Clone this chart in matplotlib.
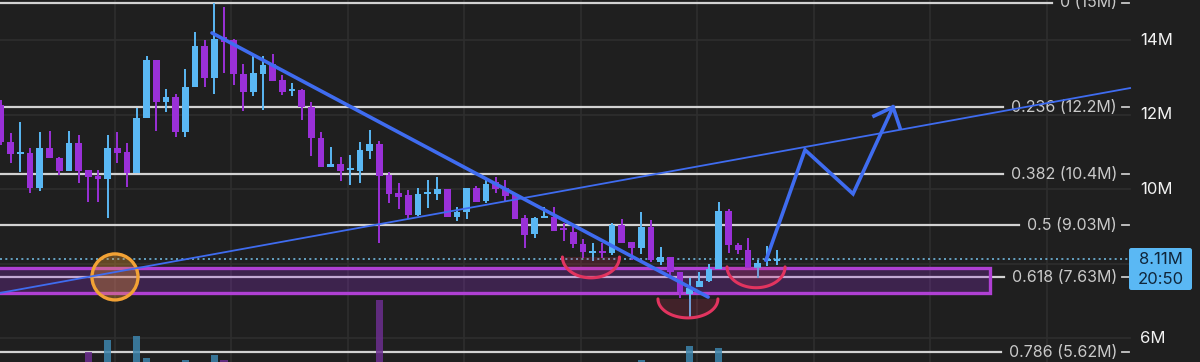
import numpy as np
import matplotlib
matplotlib.use("Agg")
import matplotlib.pyplot as plt
from matplotlib.patches import Rectangle, Ellipse, Polygon, FancyBboxPatch

# ---------------- data (prices in millions) ----------------
opens = [12.26, 11.26, 10.94, 10.97, 10.03, 11.10, 10.83, 10.48, 11.24, 10.51,
         10.35, 10.27, 11.10, 10.99, 10.43, 11.91, 13.46, 12.34, 12.47, 11.53,
         12.74, 13.84, 12.98, 14.08, 14.00, 13.09, 12.60, 13.09, 13.36, 12.93,
         12.63, 12.66, 12.20, 11.37, 10.59, 10.67, 10.51, 10.48, 11.02, 11.21,
         10.38, 9.89, 9.84, 9.30, 9.87, 9.87, 10.00, 9.25, 9.38, 10.03,
         9.68, 10.19, 10.03, 9.87, 9.22, 8.79, 9.22, 9.25, 8.95, 8.85,
         8.52, 8.28, 8.34, 8.28, 9.03, 8.58, 8.42, 8.98, 8.04, 8.18,
         7.77, 7.18, 7.37, 7.53, 7.85, 9.41, 8.50, 8.36, 7.87, 8.07, 8.07]
highs = [12.39, 11.50, 11.80, 11.10, 11.53, 11.56, 10.86, 11.56, 11.45, 10.51,
         10.51, 11.45, 11.53, 11.24, 12.18, 13.57, 13.46, 12.69, 12.55, 13.22,
         14.22, 14.00, 14.99, 14.89, 14.03, 13.36, 13.60, 13.57, 13.62, 13.06,
         12.85, 12.69, 12.34, 11.53, 11.13, 10.86, 10.91, 11.26, 11.58, 11.29,
         10.46, 10.16, 9.97, 10.03, 10.24, 10.32, 10.00, 9.52, 10.03, 10.08,
         10.30, 10.32, 10.24, 9.87, 9.30, 9.25, 9.52, 9.52, 9.09, 9.03,
         8.66, 8.55, 8.55, 9.09, 9.20, 8.58, 9.38, 9.17, 8.44, 8.18,
         7.77, 7.61, 7.77, 7.99, 9.65, 9.46, 8.55, 8.69, 8.09, 8.47, 8.36]
lows = [11.18, 10.70, 10.46, 9.89, 9.95, 10.83, 10.38, 10.48, 10.16, 9.65,
        9.65, 9.22, 10.70, 10.05, 10.43, 11.91, 11.56, 12.07, 11.40, 11.40,
        12.74, 12.74, 12.55, 13.11, 12.79, 12.09, 12.50, 12.12, 12.90, 12.52,
        12.50, 11.85, 10.89, 10.59, 10.59, 10.22, 10.11, 10.16, 10.81, 8.55,
        9.62, 9.46, 9.20, 9.28, 9.49, 9.71, 9.25, 9.14, 9.20, 9.65,
        9.62, 9.89, 9.68, 9.20, 8.42, 8.69, 9.22, 8.87, 8.60, 8.42,
        8.15, 8.07, 8.15, 8.23, 8.55, 8.09, 8.26, 8.04, 7.96, 7.64,
        7.07, 6.54, 7.37, 7.50, 7.85, 8.28, 8.26, 7.87, 7.61, 7.93, 7.96]
closes = [11.26, 10.94, 10.97, 10.03, 11.10, 10.83, 10.48, 11.24, 10.48, 10.32,
          10.27, 11.10, 10.97, 10.43, 11.91, 13.46, 12.34, 12.47, 11.53, 12.74,
          13.84, 12.98, 14.03, 13.95, 13.09, 12.60, 13.11, 13.33, 12.90, 12.60,
          12.66, 12.20, 11.37, 10.59, 10.67, 10.48, 10.56, 11.05, 11.21, 10.35,
          9.87, 9.79, 9.30, 9.87, 9.89, 10.00, 9.25, 9.38, 10.03, 9.65,
          10.13, 10.00, 9.81, 9.20, 8.77, 9.22, 9.25, 8.87, 8.90, 8.52,
          8.31, 8.34, 8.28, 9.03, 8.55, 8.42, 8.98, 8.09, 8.18, 7.77,
          7.24, 7.34, 7.53, 7.85, 9.41, 8.50, 8.36, 7.87, 8.01, 8.12, 8.11]

# visible volume bars (candle index, relative volume)
vol_index = [9, 11, 14, 15, 19, 22, 23, 39, 66, 71, 74]
vol_values = [0.17, 0.36, 0.43, 0.07, 0.03, 0.12, 0.03, 1.03, 0.03, 0.27, 0.23]

fib_ratios = ["0", "0.236", "0.382", "0.5", "0.618", "0.786"]
fib_prices = [15.0, 12.2, 10.4, 9.03, 7.63, 5.62]
fib_texts = ["15M", "12.2M", "10.4M", "9.03M", "7.63M", "5.62M"]

grid_ticks = [14, 12, 10, 8, 6]
label_ticks = [14, 12, 10, 6]
axis_labels = ["14M", "12M", "10M", "6M"]

last_price = 8.11
last_price_label = "8.11M"
time_label = "20:50"

# annotations (candle-index, price)
down_trend = ([21.75, 72.9], [14.19, 7.10])
up_trend = ([-0.1, 116.4], [7.21, 12.71])
projection = ([78.87, 82.89, 87.84, 91.96], [8.09, 11.05, 9.87, 12.20])
arrow_wings = ([90.0, 91.96, 92.68], [11.96, 12.20, 11.64])
zone = (7.21, 7.88, 101.96)          # bottom, top, right end
circle_center = (11.75, 7.64)
smiles = [(60.82, 8.175, 2.94, 0.56), (70.82, 7.05, 3.09, 0.51), (77.84, 7.91, 2.99, 0.56)]

# ---------------- style ----------------
BG = "#1f1f1f"
UP = "#5ab8f4"
DOWN = "#9a30d8"
LINE = "#d2d2d2"
TREND = "#3f6cf0"
GRID = "#2e2e2e"
FONT = ["Inter", "DejaVu Sans"]

W, H = 1200, 362
X0_PX, STEP_PX = 1.0, 9.7
PX_PER_M = 37.25
YTOP = 15.074

def px_x(p):
    return (p - X0_PX) / STEP_PX

fig = plt.figure(figsize=(W / 100, H / 100), dpi=100, facecolor=BG)
ax = fig.add_axes([0, 0, 1, 1])
ax.set_facecolor(BG)
ax.set_xlim(px_x(0), px_x(W))
ax.set_ylim(YTOP - H / PX_PER_M, YTOP)
ax.axis("off")

x_axis_right = px_x(1130)

# grid
for t in grid_ticks:
    ax.plot([px_x(0), x_axis_right], [t, t], color=GRID, lw=1.2, zorder=1)
for k in range(9):
    gx = 11.75 + 12.01 * k
    ax.axvline(gx, color=GRID, lw=1.2, zorder=1)

# fib labels
fib_text_objs = []
for r, p, s in zip(fib_ratios, fib_prices, fib_texts):
    t = ax.text(px_x(1117), p, f"{r} ({s})", ha="right", va="center",
                color="#c9c9c9", fontsize=11.5, family=FONT, zorder=6)
    fib_text_objs.append(t)
    ax.plot([px_x(1122), px_x(1129)], [p, p], color="#c9c9c9", lw=1.3, zorder=6)

fig.canvas.draw()
renderer = fig.canvas.get_renderer()
inv = ax.transData.inverted()
for t, p in zip(fib_text_objs, fib_prices):
    bb = t.get_window_extent(renderer)
    xe = inv.transform((bb.x0 - 8, 0))[0]
    ax.plot([px_x(0), xe], [p, p], color=LINE, lw=1.6, zorder=2)

# zone rectangle
zb, zt, zr = zone
ax.add_patch(Rectangle((px_x(-5), zb), zr - px_x(-5), zt - zb,
                       facecolor=(0.6, 0.19, 0.85, 0.25), edgecolor="#b040d4",
                       lw=2.4, zorder=2.5))

# last price dotted line
ax.plot([px_x(0), px_x(1129)], [last_price, last_price], color="#6fb6dc",
        lw=1.2, ls=(0, (1.2, 2.0)), zorder=2.6)

# candles
idx = np.arange(len(opens))
o = np.array(opens); c = np.array(closes); h = np.array(highs); l = np.array(lows)
up = c >= o
cols = np.where(up, UP, DOWN)
body_w = 0.7
for i in idx:
    ax.plot([i, i], [l[i], h[i]], color=cols[i], lw=1.4, zorder=3, solid_capstyle="butt")
    bot = min(o[i], c[i]); ht = max(abs(c[i] - o[i]), 0.05)
    ax.add_patch(Rectangle((i - body_w / 2, bot), body_w, ht, facecolor=cols[i],
                           edgecolor="none", zorder=3.1))

# volume
ax2 = ax.twinx()
ax2.set_ylim(0, 6.0)
ax2.axis("off")
vcols = [(0.24, 0.52, 0.68, 0.85) if closes[i] >= opens[i] else (0.42, 0.18, 0.56, 0.85)
         for i in vol_index]
ax2.bar(vol_index, vol_values, width=0.75, color=vcols, zorder=2)

# trend lines
ax.plot(*down_trend, color=TREND, lw=2.6, zorder=5, solid_capstyle="round")
ax.plot(*up_trend, color=TREND, lw=1.3, zorder=7)
ax.plot(*projection, color=TREND, lw=2.6, zorder=5, solid_joinstyle="miter")
ax.plot(*arrow_wings, color=TREND, lw=2.6, zorder=5, solid_joinstyle="miter")

# orange circle
ax.add_patch(Ellipse(circle_center, 46 / STEP_PX, 46 / PX_PER_M,
                     facecolor=(0.95, 0.62, 0.2, 0.32), edgecolor="#f2a235",
                     lw=2.4, zorder=5))

# red smiles
th = np.linspace(np.pi * 1.0, np.pi * 2.0, 60)
for cx, cy, rx, ry in smiles:
    xs = cx + rx * np.cos(th); ys = cy + ry * np.sin(th)
    ax.add_patch(Polygon(np.column_stack([xs, ys]), closed=True,
                         facecolor=(0.88, 0.2, 0.35, 0.18), edgecolor="none", zorder=4))
    ax.plot(xs, ys, color="#e2345f", lw=2.2, zorder=5, solid_capstyle="round")

# right axis labels
for t, s in zip(label_ticks, axis_labels):
    ax.text(px_x(1140), t, s, ha="left", va="center", color="#f2f2f2",
            fontsize=12, family=FONT, zorder=6)

# last price box
bx0, bx1 = px_x(1129), px_x(1192)
by0, by1 = YTOP - 290 / PX_PER_M, YTOP - 248 / PX_PER_M
ax.add_patch(FancyBboxPatch((bx0, by0), bx1 - bx0, by1 - by0,
                            boxstyle="round,pad=0,rounding_size=0.25",
                            mutation_aspect=1 / 4.0,
                            facecolor="#5ab8f4", edgecolor="none", zorder=8))
ax.text((bx0 + bx1) / 2, YTOP - 259 / PX_PER_M, last_price_label, ha="center", va="center",
        color="#10263a", fontsize=12, family=FONT, zorder=9)
ax.text((bx0 + bx1) / 2, YTOP - 279 / PX_PER_M, time_label, ha="center", va="center",
        color="#10263a", fontsize=12, family=FONT, zorder=9)

fig.savefig("out.png", dpi=100, facecolor=BG)
